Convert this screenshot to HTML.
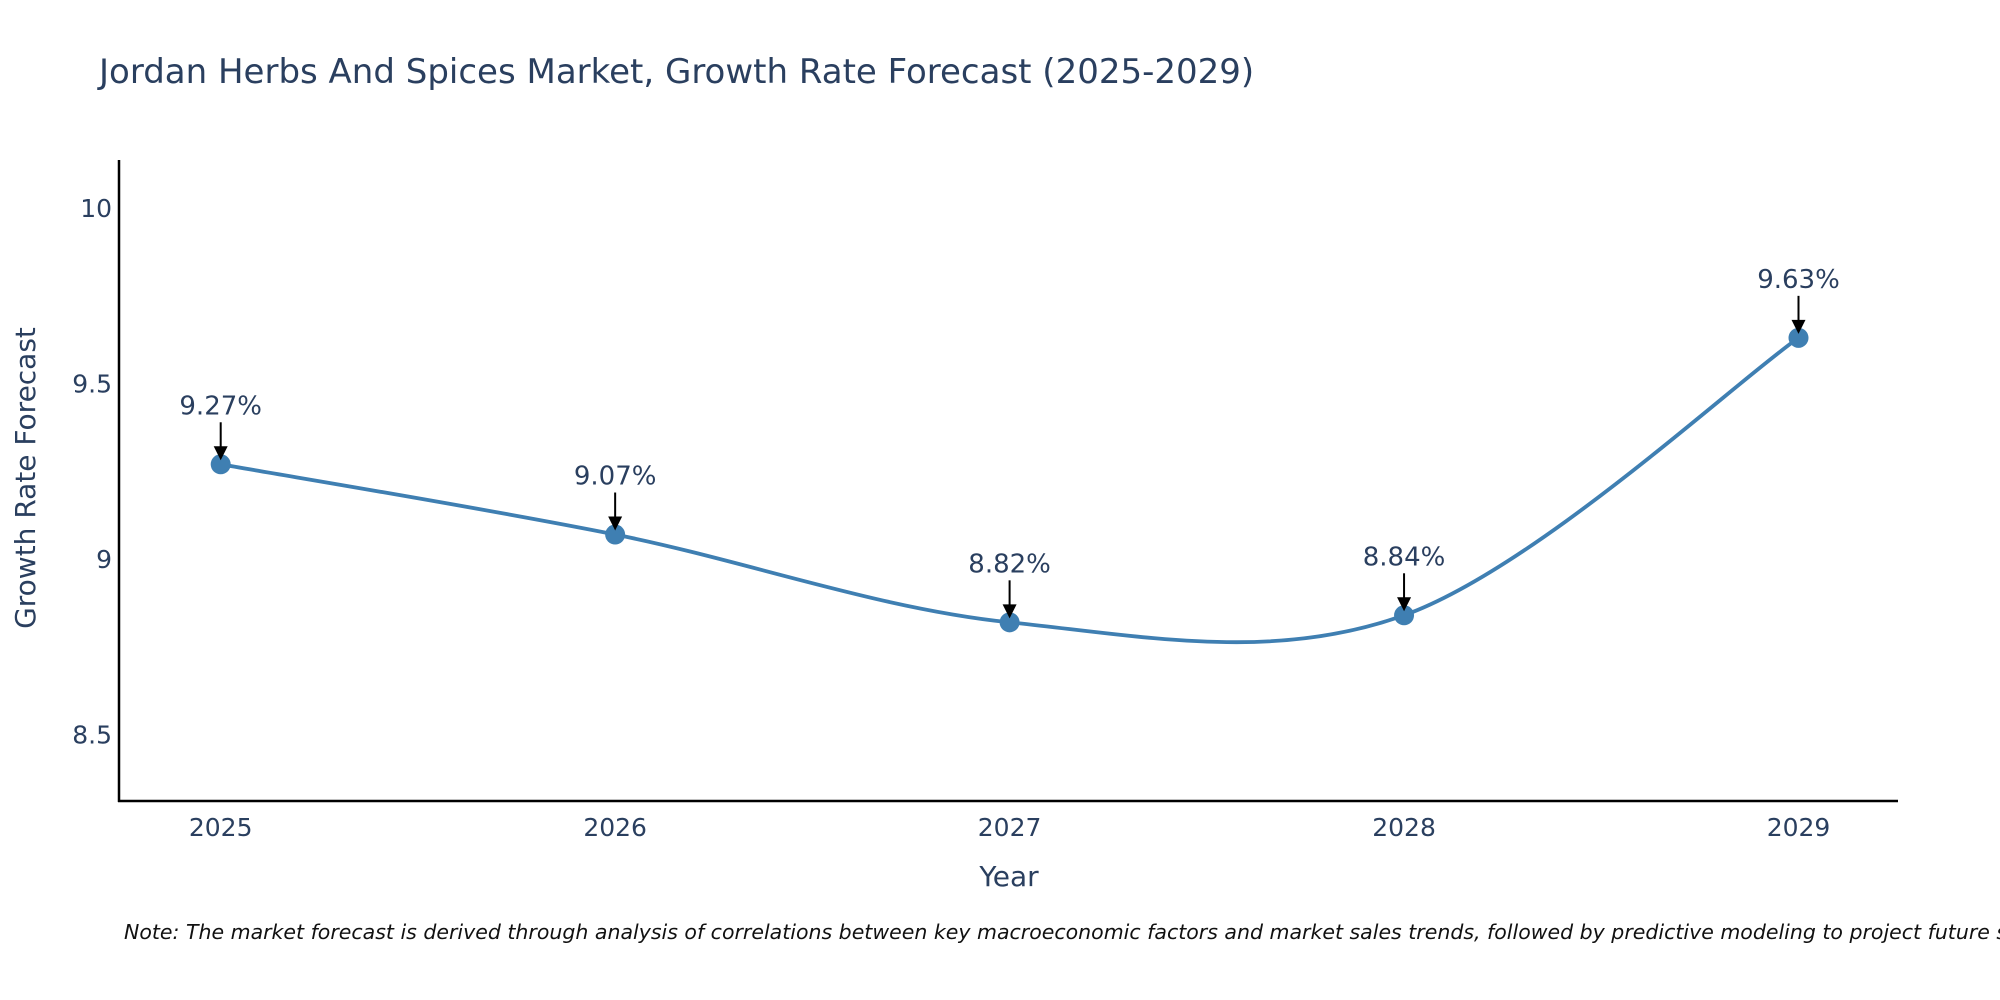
<!DOCTYPE html>
<html><head><meta charset="utf-8"><style>
html,body{margin:0;padding:0;background:#fff;}
svg{display:block;font-family:"DejaVu Sans","Liberation Sans",sans-serif;}
</style></head><body>
<svg id="chart" width="2000" height="1000" viewBox="0 0 2000 1000">
<text x="99" y="83" font-size="34" fill="#2a3f5f">Jordan Herbs And Spices Market, Growth Rate Forecast (2025-2029)</text>
<g id="yticks"></g>
<g id="xticks"></g>
<g id="plot"></g>
<line x1="119" y1="160" x2="119" y2="802" stroke="#000" stroke-width="2.5"/>
<line x1="118" y1="801" x2="1898" y2="801" stroke="#000" stroke-width="2.5"/>
<text x="1009" y="886" font-size="28" fill="#2a3f5f" text-anchor="middle">Year</text>
<text transform="translate(35,478) rotate(-90)" font-size="28" fill="#2a3f5f" text-anchor="middle">Growth Rate Forecast</text>
<text x="124" y="939" font-size="20.5" font-style="italic" fill="#111">Note: The market forecast is derived through analysis of correlations between key macroeconomic factors and market sales trends, followed by predictive modeling to project future sales.</text>
</svg>
<script>
const years = [2025, 2026, 2027, 2028, 2029];
const growth = [9.27, 9.07, 8.82, 8.84, 9.63];
const yTicks = [8.5, 9, 9.5, 10];
const yTickLabels = ["8.5", "9", "9.5", "10"];

const NS = "http://www.w3.org/2000/svg";
function xs(v){ return 220.7 + (v - 2025) * 394.45; }
function ys(v){ return 207.9 + (10 - v) * 351.2; }
function mk(tag, attrs, parent){
  const e = document.createElementNS(NS, tag);
  for (const k in attrs) e.setAttribute(k, attrs[k]);
  parent.appendChild(e);
  return e;
}
const yg = document.getElementById('yticks');
yTicks.forEach((t, i) => {
  const el = mk('text', {x: 112, y: ys(t) + 9, 'font-size': 25, fill: '#2a3f5f', 'text-anchor': 'end'}, yg);
  
  
  el.textContent = yTickLabels[i];
});
const xg = document.getElementById('xticks');
years.forEach(yv => {
  const el = mk('text', {x: xs(yv), y: 836, 'font-size': 25, fill: '#2a3f5f', 'text-anchor': 'middle'}, xg);
  
  
  el.textContent = String(yv);
});
const pg = document.getElementById('plot');
const pts = years.map((y, i) => [xs(y), ys(growth[i])]);
let d = 'M' + pts[0][0] + ',' + pts[0][1];
for (let i = 0; i < pts.length - 1; i++) {
  const p0 = pts[Math.max(0, i - 1)], p1 = pts[i], p2 = pts[i + 1], p3 = pts[Math.min(pts.length - 1, i + 2)];
  const c1 = [p1[0] + (p2[0] - p0[0]) / 6, p1[1] + (p2[1] - p0[1]) / 6];
  const c2 = [p2[0] - (p3[0] - p1[0]) / 6, p2[1] - (p3[1] - p1[1]) / 6];
  d += ' C' + c1[0] + ',' + c1[1] + ' ' + c2[0] + ',' + c2[1] + ' ' + p2[0] + ',' + p2[1];
}
const line = mk('path', {d: d, fill: 'none', stroke: '#3f7fb2', 'stroke-width': 3.8}, pg);


pts.forEach((p, i) => {
  const c = mk('circle', {cx: p[0], cy: p[1], r: 10, fill: '#3f7fb2'}, pg);
  
  
  const a = mk('line', {x1: p[0], y1: p[1] - 42, x2: p[0], y2: p[1] - 16, stroke: '#000', 'stroke-width': 2}, pg);
  
  
  const h = mk('polygon', {points: (p[0]-7)+','+(p[1]-18)+' '+(p[0]+7)+','+(p[1]-18)+' '+p[0]+','+(p[1]-4), fill: '#000'}, pg);
  
  
  const t = mk('text', {x: p[0], y: p[1] - 50, 'font-size': 26, fill: '#2a3f5f', 'text-anchor': 'middle'}, pg);
  
  
  t.textContent = growth[i].toFixed(2) + '%';
});
</script>
</body></html>
